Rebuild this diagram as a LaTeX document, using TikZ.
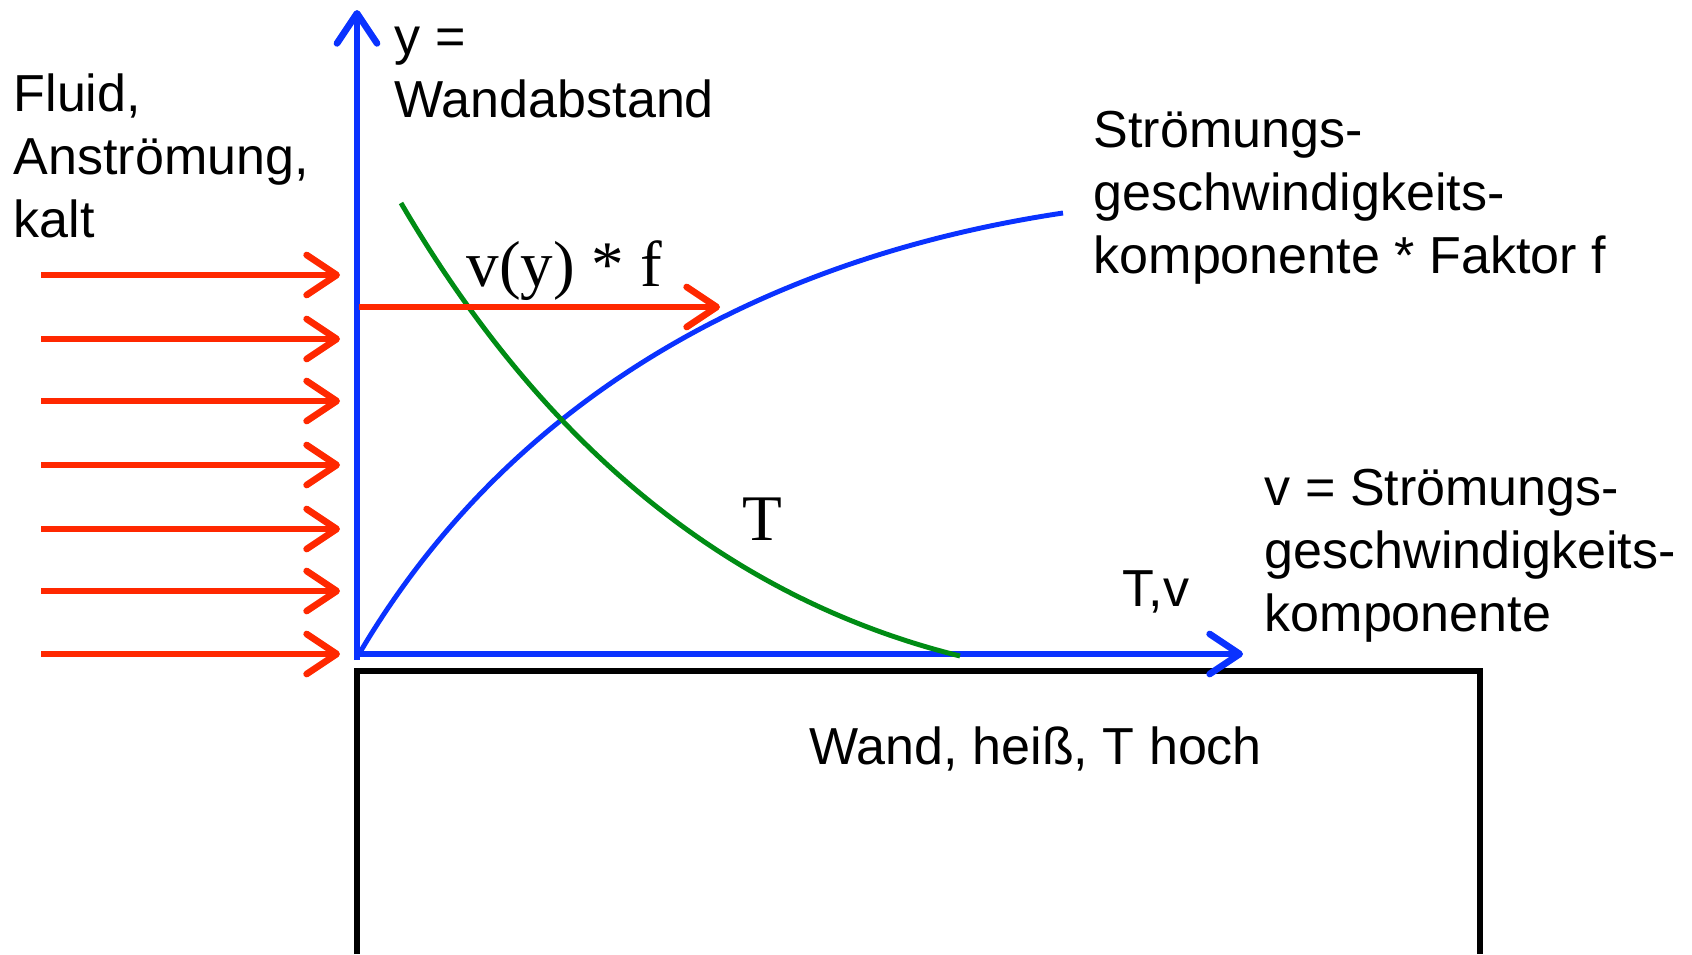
\documentclass[tikz,border=0pt]{standalone}
\usepackage{fontspec}
\setmainfont{Liberation Sans}
\newfontfamily\timesfont{Liberation Serif}
\usetikzlibrary{arrows.meta}

\definecolor{axisblue}{RGB}{10,50,255}
\definecolor{flowred}{RGB}{255,40,0}
\definecolor{tgreen}{RGB}{0,140,20}

\begin{document}
\begin{tikzpicture}[
    x=0.01cm, y=-0.01cm,
    >={Straight Barb[length=0.3cm, width=0.4cm, round]},
    axis/.style={->, line width=1.9pt, color=axisblue},
    flow/.style={->, line width=1.9pt, color=flowred},
    curve/.style={line width=1.4pt},
    lbl/.style={anchor=base west, inner sep=0pt, align=left,
                font=\fontsize{14.8}{17.9}\selectfont},
    serif/.style={anchor=base west, inner sep=0pt,
                font=\timesfont\fontsize{18.5}{22}\selectfont},
]
\useasboundingbox (0,0) rectangle (1692,954);

% === Wall ===
\draw[line width=1.6pt, line join=miter] (357,954) -- (357,671) -- (1480,671) -- (1480,954);
\node[lbl] (wand) at (809,764) {Wand, heiß, T hoch};

% === Axes ===
\coordinate (O) at (357,660);
\coordinate (ytop) at (357,10);
\coordinate (xend) at (1243,654);
\draw[axis] (O) -- (ytop);
\draw[axis] (357,654) -- (xend);

% === Incoming flow ===
\foreach \yy in {275,339,401,465,529,591,654} {
    \coordinate (a\yy) at (41,\yy);
    \coordinate (b\yy) at (340,\yy);
    \draw[flow] (a\yy) -- (b\yy);
}

% === Velocity profile ===
\draw[curve, axisblue] (359,654) .. controls (509,399) and (763,258) .. (1063,213);

% === Temperature profile ===
\draw[curve, tgreen] (401,203) .. controls (531,425) and (710,594) .. (960,656);

% === v(y)*f arrow ===
\coordinate (vs) at (359,307);
\coordinate (ve) at (720,307);
\draw[flow] (vs) -- (ve);
\node[serif] (vlbl) at (466,286) {v(y) * f};
\node[serif] (tlbl) at (742,540) {T};

% === Labels (anchored at last line) ===
\node[lbl] (ylbl) at (394,117) {y =\\Wandabstand};
\node[lbl] (fluid) at (13,237) {Fluid,\\Anströmung,\\kalt};
\node[lbl] (sgf) at (1093,273) {Strömungs-\\geschwindigkeits-\\komponente * Faktor f};
\node[lbl] (vdef) at (1264,631) {v = Strömungs-\\geschwindigkeits-\\komponente};
\node[lbl] (tv) at (1122,606) {T,v};

\end{tikzpicture}
\end{document}
